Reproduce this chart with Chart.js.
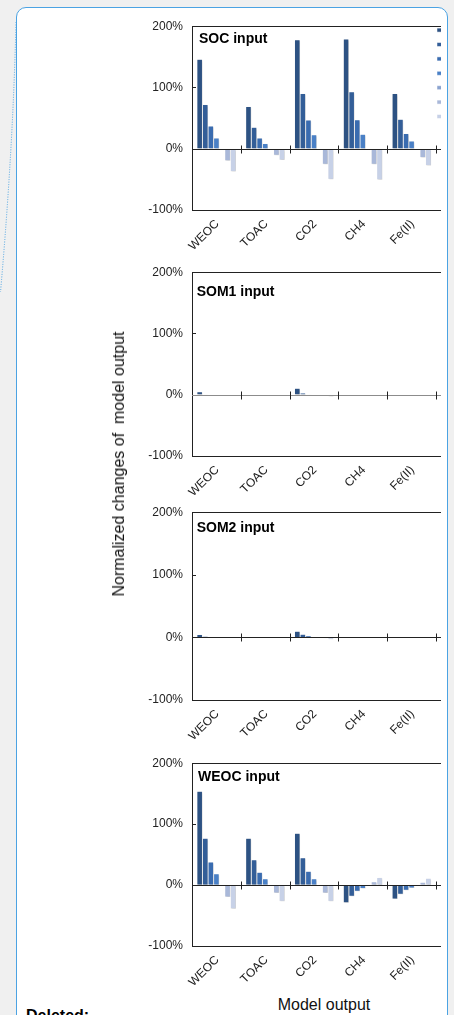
<!DOCTYPE html>
<html>
<head>
<meta charset="utf-8">
<script src="https://cdn.jsdelivr.net/npm/chart.js@4.4.1/dist/chart.umd.min.js"></script>
<style>
  html, body { margin: 0; padding: 0; width: 454px; height: 1015px; overflow: hidden; background: #f0f0f0; font-family: "Liberation Sans", Arial, sans-serif; }
  #box { position: absolute; left: 16px; top: 7px; width: 430px; height: 1100px; background: #fff; border: 1px solid #4ba3e3; border-radius: 10px; }
  #clip { position: absolute; left: 0; top: 0; width: 441px; height: 1015px; overflow: hidden; }
  .panel { position: absolute; left: 120px; }
  #ytitle { position: absolute; left: 119px; top: 464px; transform: translate(-50%, -50%) rotate(-90deg); white-space: pre; font-size: 16px; line-height: 16px; color: #111; }
  #xtitle { position: absolute; left: 324px; top: 997px; transform: translateX(-50%); white-space: pre; font-size: 16px; line-height: 16px; color: #111; }
  #deleted { position: absolute; left: 26px; top: 1008px; font-size: 16px; line-height: 16px; font-weight: bold; color: #000; }
  #connector { position: absolute; left: 0; top: 0; }
</style>
</head>
<body>
<div id="box"></div>
<svg id="connector" width="20" height="300"><path d="M16 22 Q13 150 0.5 292" stroke="#4ba3e3" stroke-width="1" stroke-dasharray="1 1.5" fill="none"/></svg>
<div id="clip">
  <canvas id="p1" class="panel"></canvas>
  <canvas id="p2" class="panel"></canvas>
  <canvas id="p3" class="panel"></canvas>
  <canvas id="p4" class="panel"></canvas>
</div>
<div id="ytitle">Normalized changes of  model output</div>
<div id="xtitle">Model output</div>
<div id="deleted">Deleted:</div>

<script>
const $ = (id) => document.getElementById(id);

// data
const categories = ["WEOC", "TOAC", "CO2", "CH4", "Fe(II)"];
const seriesLabels = ["+100% input", "+50% input", "+25% input", "+10% input", "0% input", "-10% input", "-25% input"];
const yTicks = [-100, 0, 100, 200];

// one row per series, one value per category (%)
const socInput = [
  [146, 69, 178, 179, 90],
  [72, 35, 90, 93, 48],
  [37, 17.5, 47, 47.5, 25],
  [17.5, 8.5, 23, 23.5, 12.5],
  [0, 0, 0, 0, 0],
  [-19.5, -10.5, -25.5, -25.5, -14.5],
  [-37, -18.5, -50, -50.5, -27.5],
];
const som1Input = [
  [5, 0.5, 10.5, 0.3, 0.3],
  [1, 0.3, 3, 0.2, 0.2],
  [0.5, 0.2, 1, 0.1, 0.1],
  [0.3, 0.1, 0.5, 0.1, 0.1],
  [0, 0, 0, 0, 0],
  [-0.5, -0.2, -1, -0.1, -0.1],
  [-1, -0.5, -3, -0.3, -0.3],
];
const som2Input = [
  [4.5, 0.5, 10, 0.3, 0.3],
  [2, 0.3, 5, 0.2, 0.2],
  [1, 0.2, 2.5, 0.1, 0.1],
  [0.5, 0.1, 1, 0.1, 0.1],
  [0, 0, 0, 0, 0],
  [-0.5, -0.3, -1.5, -0.1, -0.1],
  [-1, -0.5, -3, -0.2, -0.2],
];
const weocInput = [
  [154, 77, 85, -29, -23],
  [77, 41.5, 45, -18.5, -15],
  [38, 21, 22.5, -10, -8.5],
  [18.5, 10.5, 10.5, -5.5, -5],
  [0, 0, 0, 0, 0],
  [-19.5, -13, -13, 5.5, 4.5],
  [-39, -26.5, -26.5, 12.5, 11],
];

const seriesColors = ["#2d5283", "#335e98", "#3a6cb0", "#4a80c6", "#8aa3cf", "#a9b8d9", "#c7d1e7"];

// layout of the four panels
const panels = [
  { id: "p1", title: "SOC input", values: socInput, top: 10, plotH: 190, dx: 7, dy: 16.7, zero: "#222", legend: true },
  { id: "p2", title: "SOM1 input", values: som1Input, top: 256, plotH: 190, dx: 4.7, dy: 23.5, zero: "#8c8c8c", legend: false },
  { id: "p3", title: "SOM2 input", values: som2Input, top: 496, plotH: 194, dx: 4.7, dy: 19.7, zero: "#222", legend: false },
  { id: "p4", title: "WEOC input", values: weocInput, top: 747, plotH: 189, dx: 6, dy: 18, zero: "#222", legend: false },
];

const FONT = "'Liberation Sans', Arial, sans-serif";
const CANVAS_W = 386, Y_W = 72, X_H = 40, PAD_TOP = 10, LEGEND_W = 70;

Chart.defaults.font.family = FONT;
Chart.defaults.color = "#222";

const shadowPlugin = {
  id: "barShadow",
  beforeDatasetsDraw(chart) {
    const c = chart.ctx;
    c.save();
    c.shadowColor = "rgba(0,0,0,0.22)";
    c.shadowBlur = 2;
    c.shadowOffsetX = 1;
    c.shadowOffsetY = 1;
  },
  afterDatasetsDraw(chart) {
    chart.ctx.restore();
  },
};

const framePlugin = {
  id: "frame",
  afterDatasetsDraw(chart, args, opts) {
    const { ctx: c, chartArea: a, scales: { x, y } } = chart;
    const ext = a.right + 20;
    c.save();
    c.lineWidth = 1;
    c.strokeStyle = "#222";
    c.beginPath();
    c.moveTo(ext, Math.round(a.top) + 0.5);
    c.lineTo(Math.round(a.left) + 0.5, Math.round(a.top) + 0.5);
    c.lineTo(Math.round(a.left) + 0.5, Math.round(a.bottom) + 0.5);
    c.lineTo(ext, Math.round(a.bottom) + 0.5);
    c.stroke();
    // inner ticks on the value axis
    y.ticks.forEach((t) => {
      const py = Math.round(y.getPixelForValue(t.value)) + 0.5;
      c.beginPath();
      c.moveTo(a.left, py);
      c.lineTo(a.left + 4, py);
      c.stroke();
    });
    // zero line with crossing category ticks
    const y0 = Math.round(y.getPixelForValue(0)) + 0.5;
    c.strokeStyle = opts.zero;
    c.beginPath();
    c.moveTo(a.left, y0);
    c.lineTo(ext, y0);
    c.stroke();
    c.strokeStyle = "#222";
    categories.forEach((_, i) => {
      const px = Math.round(x.getPixelForValue(i + 0.5)) + 0.5;
      c.beginPath();
      c.moveTo(px, y0 - 4);
      c.lineTo(px, y0 + 4);
      c.stroke();
    });
    // panel title inside the plot
    c.fillStyle = "#000";
    c.font = "bold 14px " + FONT;
    c.textAlign = "left";
    c.textBaseline = "alphabetic";
    c.fillText(opts.title, a.left + opts.dx, a.top + opts.dy);
    c.restore();
  },
};

function makePanel(p) {
  const cv = $(p.id);
  const h = PAD_TOP + p.plotH + X_H;
  cv.width = CANVAS_W;
  cv.height = h;
  cv.style.top = p.top + "px";
  cv.style.width = CANVAS_W + "px";
  cv.style.height = h + "px";

  const datasets = p.values.map((row, i) => ({
    label: seriesLabels[i],
    data: row,
    backgroundColor: seriesColors[i],
    borderColor: "#ffffff",
    borderWidth: 0.5,
    borderSkipped: false,
    inflateAmount: 0,
    categoryPercentage: 0.8,
    barPercentage: 1,
  }));

  return new Chart(cv, {
    type: "bar",
    data: { labels: categories, datasets },
    plugins: [shadowPlugin, framePlugin],
    options: {
      responsive: false,
      animation: false,
      events: [],
      layout: { padding: { top: PAD_TOP, right: p.legend ? 0 : LEGEND_W, left: 0, bottom: 0 } },
      scales: {
        x: {
          grid: { display: false, drawTicks: false },
          border: { display: false },
          ticks: { autoSkip: false, maxRotation: 45, minRotation: 45, padding: 7, labelOffset: 1, font: { size: 12 }, color: "#222" },
          afterFit: (s) => { s.height = X_H; },
        },
        y: {
          min: -100,
          max: 200,
          afterBuildTicks: (s) => { s.ticks = yTicks.map((v) => ({ value: v })); },
          grid: { display: false, drawTicks: false },
          border: { display: false },
          ticks: { padding: 9, font: { size: 12 }, color: "#222", callback: (v) => v + "%" },
          afterFit: (s) => { s.width = Y_W; },
        },
      },
      plugins: {
        tooltip: { enabled: false },
        legend: {
          display: p.legend,
          position: "right",
          align: "start",
          maxWidth: LEGEND_W,
          title: { display: true, text: " ", font: { size: 2 }, padding: 0 },
          labels: { boxWidth: 5, boxHeight: 4, padding: 1, font: { size: 13.4 }, color: "#222" },
        },
        frame: { title: p.title, dx: p.dx, dy: p.dy, zero: p.zero },
      },
    },
  });
}

panels.forEach(makePanel);
</script>
</body>
</html>
